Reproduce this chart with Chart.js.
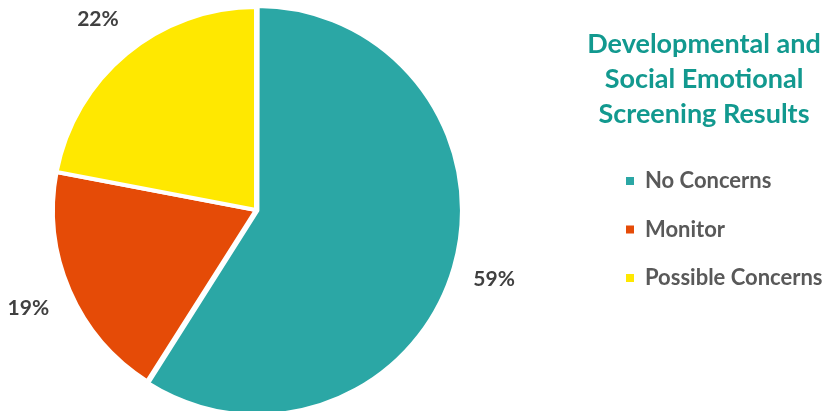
<!DOCTYPE html>
<html>
<head>
<meta charset="utf-8">
<script src="https://cdn.jsdelivr.net/npm/chart.js@4.4.0/dist/chart.umd.min.js"></script>
<style>
  html, body { margin: 0; padding: 0; background: #fff; }
  #wrap { width: 840px; height: 411px; position: relative; }
</style>
</head>
<body>
<div id="wrap"><canvas id="pieChart"></canvas></div>
<script>
const categories = ['No Concerns', 'Monitor', 'Possible Concerns'];
const shares = [59, 19, 22];
const sliceColors = ['#2BA7A5', '#E54B07', '#FFE800'];
const legendTitle = ['Developmental and', 'Social Emotional', 'Screening Results'];

// draws the % labels outside each slice
const outsideLabels = {
    id: 'outsideLabels',
    afterDatasetsDraw(chart) {
        const ctx = chart.ctx;
        const meta = chart.getDatasetMeta(0);
        ctx.save();
        ctx.font = 'bold 21px Lato';
        ctx.fillStyle = '#404040';
        ctx.textAlign = 'center';
        ctx.textBaseline = 'middle';
        meta.data.forEach((arc, i) => {
            const mid = (arc.startAngle + arc.endAngle) / 2;
            const r = arc.outerRadius + 45;
            ctx.fillText(shares[i] + '%', arc.x + Math.cos(mid) * r, arc.y + Math.sin(mid) * r);
        });
        ctx.restore();
    }
};

// title + legend on the right side
const sideLegend = {
    id: 'sideLegend',
    afterDraw(chart) {
        const ctx = chart.ctx;
        ctx.save();
        ctx.font = 'bold 27px Lato';
        ctx.fillStyle = '#12998F';
        ctx.textAlign = 'center';
        ctx.textBaseline = 'middle';
        legendTitle.forEach((line, i) => {
            ctx.fillText(line, 704, 44 + i * 35);
        });
        ctx.font = 'bold 22px Lato';
        ctx.textAlign = 'left';
        categories.forEach((name, i) => {
            const y = 181 + i * 48.5;
            ctx.fillStyle = sliceColors[i];
            ctx.fillRect(626, y - 4, 8, 8);
            ctx.fillStyle = '#595959';
            ctx.fillText(name, 645, y);
        });
        ctx.restore();
    }
};

new Chart(document.getElementById('pieChart'), {
    type: 'pie',
    data: {
        labels: categories,
        datasets: [{
            data: shares,
            backgroundColor: sliceColors,
            borderColor: '#ffffff',
            borderWidth: 4,
            offset: [6, 0, 0]
        }]
    },
    options: {
        responsive: true,
        maintainAspectRatio: false,
        animation: false,
        radius: 203,
        layout: {
            padding: { left: 0, right: 328, top: 9, bottom: 0 }
        },
        plugins: {
            legend: { display: false },
            tooltip: { enabled: false }
        }
    },
    plugins: [outsideLabels, sideLegend]
});
</script>
</body>
</html>
